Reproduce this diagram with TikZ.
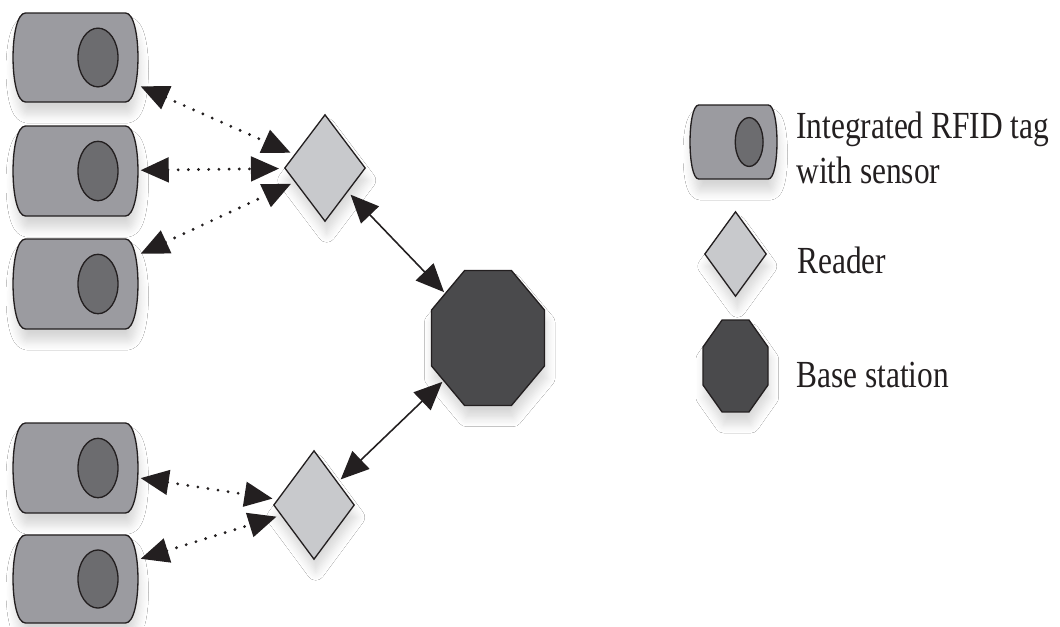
\documentclass[tikz,border=0pt]{standalone}
\usepackage{fontspec}
\setmainfont{Liberation Serif}
\usetikzlibrary{arrows.meta,shapes.geometric,shadows.blur}
\definecolor{tagfill}{RGB}{155,155,160}
\definecolor{eyefill}{RGB}{108,108,111}
\definecolor{readerfill}{RGB}{200,201,204}
\definecolor{basefill}{RGB}{74,74,76}
\definecolor{edgeink}{RGB}{35,31,32}
\definecolor{inktext}{RGB}{35,31,32}
\tikzset{
  softshadow/.style={blur shadow={shadow xshift=1pt, shadow yshift=-7pt, shadow blur radius=5pt, shadow blur steps=8, shadow opacity=16}},
  tagbody/.style={fill=tagfill, draw=edgeink, line width=0.75pt, softshadow},
  tageye/.style={fill=eyefill, draw=edgeink, line width=0.75pt},
  tagbox/.style 2 args={rectangle, inner sep=0pt, outer sep=1.5pt, minimum width=#1*0.02cm, minimum height=#2*0.02cm},
  reader/.style={diamond, inner sep=0pt, outer sep=2.5pt, fill=readerfill, draw=edgeink, line width=0.75pt, softshadow},
  basest/.style={regular polygon, regular polygon sides=8, inner sep=0pt, outer sep=1pt, fill=basefill, draw=edgeink, line width=0.75pt, softshadow, transform shape},
  bothtips/.style={{Triangle[length=16pt,width=14pt]}-{Triangle[length=16pt,width=14pt]}},
  dotlink/.style={bothtips, draw=edgeink, line width=1.8pt, dash pattern=on 0pt off 5.8pt, line cap=round},
  solidlink/.style={bothtips, draw=edgeink, line width=0.9pt},
  legendtext/.style={inner sep=0pt, text=inktext, font=\fontsize{21.8}{25}\selectfont, anchor=base west},
}
\newcommand{\tagshape}[5]{%
  \path[tagbody] (#2-#4/2+0.1*#4,#3-#5/2) -- (#2+#4/2-0.1*#4,#3-#5/2)
     .. controls (#2+#4/2+0.033*#4,#3-#5/2) and (#2+#4/2+0.033*#4,#3+#5/2) .. (#2+#4/2-0.1*#4,#3+#5/2)
     -- (#2-#4/2+0.1*#4,#3+#5/2)
     .. controls (#2-#4/2-0.033*#4,#3+#5/2) and (#2-#4/2-0.033*#4,#3-#5/2) .. (#2-#4/2+0.1*#4,#3-#5/2) -- cycle;
  \path[tageye] (#2+0.18*#4,#3) ellipse [x radius=0.16*#4, y radius=0.33*#5];
  \node[tagbox={#4}{#5}] (#1) at (#2,#3) {};
}
\begin{document}
\begin{tikzpicture}[x=0.02cm, y=-0.02cm]
  \fill[white] (0,0) rectangle (1060,626);
  \useasboundingbox (0,0) rectangle (1060,626);

  % tags
  \tagshape{t1}{75.5}{57.5}{125}{89}
  \tagshape{t2}{75.5}{171}{125}{90}
  \tagshape{t3}{75.5}{284}{125}{90}
  \tagshape{t4}{75.5}{468}{125}{90}
  \tagshape{t5}{75.5}{579}{125}{88}

  % readers
  \node[reader, minimum width=1.68cm, minimum height=2.2cm] (d1) at (325,168) {};
  \node[reader, minimum width=1.68cm, minimum height=2.24cm] (d2) at (314,505) {};

  % base station
  \node[basest, minimum size=2.446cm, yscale=1.195] (bs) at (488,338) {};

  % legend
  \tagshape{lt}{733.5}{142}{87}{74}
  \node[reader, minimum width=1.3cm, minimum height=1.76cm] (ld) at (735.5,254) {};
  \node[basest, minimum size=1.407cm, yscale=1.415] (lb) at (735.5,366) {};
  \node[legendtext] (txt1) at (796,138) {\scalebox{0.82}[1]{Integrated RFID tag}};
  \node[legendtext] (txt2) at (796,183) {\scalebox{0.82}[1]{with sensor}};
  \node[legendtext] (txt3) at (797,273) {\scalebox{0.82}[1]{Reader}};
  \node[legendtext] (txt4) at (796,387) {\scalebox{0.82}[1]{Base station}};

  % connectors
  \draw[dotlink] (t1) -- (d1);
  \draw[dotlink] (t2) -- (d1);
  \draw[dotlink] (t3) -- (d1);
  \draw[dotlink] (t4) -- (d2);
  \draw[dotlink] (t5) -- (d2);
  \draw[solidlink] (d1) -- (bs);
  \draw[solidlink] (d2) -- (bs);
\end{tikzpicture}
\end{document}
